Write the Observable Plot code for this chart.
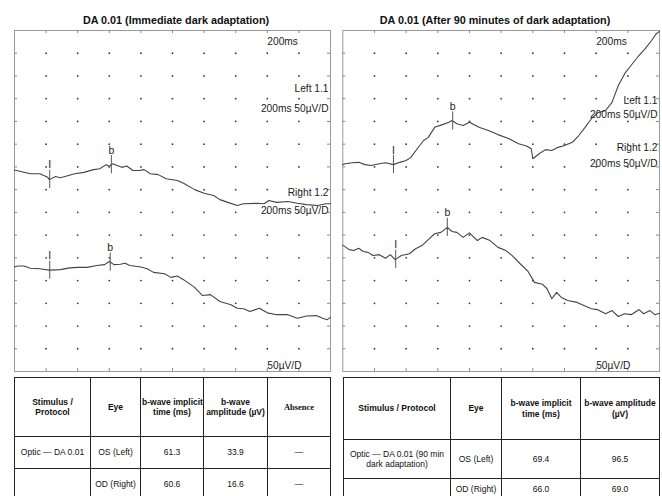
<!DOCTYPE html>
<html><head><meta charset="utf-8">
<script src="https://cdn.jsdelivr.net/npm/d3@7"></script>
<script src="https://cdn.jsdelivr.net/npm/@observablehq/plot@0.6"></script>
<style>
body{margin:0;background:#fff;font-family:"Liberation Sans",Arial,sans-serif;}
#wrap{position:relative;width:662px;height:496px;overflow:hidden;background:#fff;}
.title{position:absolute;top:14px;z-index:3;font-weight:bold;font-size:10.8px;line-height:13px;text-align:center;white-space:nowrap;color:#111;}
.panel{position:absolute;top:0;z-index:1;}
table{position:absolute;border-collapse:collapse;table-layout:fixed;z-index:2;background:#fff;}
td,th{border:1px solid #222;text-align:center;vertical-align:middle;padding:0 1px;font-size:8.5px;line-height:10.5px;white-space:nowrap;color:#111;}
th{font-weight:bold;}
th.serif{font-family:"Liberation Serif","Times New Roman",serif;font-size:8.5px;}
</style></head>
<body>
<div id="wrap"></div>
<script>
// ---- grid (ms, µV) ----
const xGrid = [20, 40, 60, 80, 100, 120, 140, 160, 180];
const yGrid = [50, 100, 150, 200, 250, 300, 350, 400, 450, 500, 550, 600, 650, 700];
const markerLabels = ["I", "b"];

// ---- Immediate dark adaptation ----
const immLeft_t = [0,4,10,16,21,22,26,29,32,38,44,50,54,58,60,62,65,68,71,75,79,82,86,91,96,103,107,114,120,126,130,135,141,145,154,158,161,166,173,179,185,192,197,200];
const immLeft_v = [443,440,435,435,427,422,429,426,429,435,438,444,446,455,451,457,453,449,452,442,442,444,435,433,424,420,414,400,392,387,378,372,365,369,370,369,376,372,374,370,367,365,369,369];
const immLeft_marks = [22.3, 61.3];
const immRight_t = [0,2,6,10,16,22,29,35,40,46,52,57,60,63,67,70,73,80,84,88,95,99,103,107,114,119,124,130,137,141,145,149,155,160,166,173,179,185,191,195,198,200];
const immRight_v = [230,232,232,227,226,223,224,228,229,229,233,235,242,235,236,238,233,230,226,218,215,207,210,202,185,167,169,154,147,139,138,132,139,129,125,125,117,122,123,117,114,119];
const immRight_marks = [22.3, 60.6];

// ---- After 90 minutes of dark adaptation ----
const darkLeft_t = [0,1.5,6,10,14,18,23,27,32,36,40,43,47,51,54,58,63,67,69,72,76,80,86,92,98,105,111,116,119,120,124,128,132,136,140,145,149,153,157,161,166,170,174,178,182,187,191,195,198,200];
const darkLeft_v = [455,457,459,460,455,453,457,459,455,460,464,471,490,508,515,537,543,548,552,545,541,548,537,530,521,512,501,496,490,468,479,488,486,493,497,504,519,537,556,569,574,592,629,655,673,695,710,728,743,748];
const darkLeft_marks = [32, 69.4];
const darkRight_t = [0,4,7,10,13,16,19,23,27,30,33,37,42,46,50,54,58,62,66,69,72,76,80,85,88,93,98,103,107,112,117,121,126,129,132,135,138,142,148,153,157,161,166,170,174,178,182,187,190,194,197,200];
const darkRight_v = [278,268,266,271,264,262,255,257,249,257,246,255,259,270,277,290,303,306,317,308,306,295,305,288,295,288,273,266,255,237,220,196,192,182,160,174,163,156,152,144,138,136,127,134,121,127,125,136,127,134,125,128];
const darkRight_marks = [33.4, 66.0];

// ---- titles & annotations ----
const titles = ["DA 0.01 (Immediate dark adaptation)", "DA 0.01 (After 90 minutes of dark adaptation)"];
const sweepLabel = "200ms";
const gainLabel = "50µV/D";
const chLabels = ["Left 1.1", "Right 1.2"];
const chSettings = "200ms 50µV/D";

// ---- tables ----
const t1Header = ["Stimulus /\nProtocol", "Eye", "b-wave implicit\ntime (ms)", "b-wave\namplitude (µV)", "Absence"];
const t1Rows = [["Optic — DA 0.01", "OS (Left)", "61.3", "33.9", "—"], ["", "OD (Right)", "60.6", "16.6", "—"]];
const t2Header = ["Stimulus / Protocol", "Eye", "b-wave implicit\ntime (ms)", "b-wave amplitude\n(µV)"];
const t2Rows = [["Optic — DA 0.01 (90 min\ndark adaptation)", "OS (Left)", "69.4", "96.5"], ["", "OD (Right)", "66.0", "69.0"]];

const FONT = '"Liberation Sans",Arial,sans-serif';

function interp(ts, vs, t) {
  const i = d3.bisectLeft(ts, t);
  if (i <= 0) return vs[0];
  if (i >= ts.length) return vs[vs.length - 1];
  const f = (t - ts[i - 1]) / (ts[i] - ts[i - 1]);
  return vs[i - 1] + f * (vs[i] - vs[i - 1]);
}

function panel(cfg) {
  const W = 331, H = 372, mt = 30, mb = 1;
  const innerW = W - cfg.ml - cfg.mr, innerH = H - mt - mb;
  const lines = cfg.traces.flatMap((tr, k) => tr.t.map((t, i) => ({t, v: tr.v[i], id: k})));
  const marks = cfg.traces.flatMap(tr => tr.m.map((t, i) => ({t, v: interp(tr.t, tr.v, t), label: markerLabels[i]})));
  const pts = xGrid.flatMap(x => yGrid.map(y => ({x, y})));
  return Plot.plot({
    width: W, height: H, marginTop: mt, marginBottom: mb, marginLeft: cfg.ml, marginRight: cfg.mr,
    x: {domain: [0, 200], axis: null},
    y: {domain: [0, 750], axis: null},
    style: {fontFamily: FONT, fontSize: "10.2px", color: "#222", background: "white", overflow: "visible"},
    marks: [
      Plot.frame({stroke: "#9a9a9a", strokeWidth: 1}),
      Plot.tickX(xGrid, {x: d => d, insetBottom: innerH - 3, stroke: "#888"}),
      Plot.tickX(xGrid, {x: d => d, insetTop: innerH - 3, stroke: "#888"}),
      Plot.tickY(yGrid, {y: d => d, insetRight: innerW - 3, stroke: "#888"}),
      Plot.tickY(yGrid, {y: d => d, insetLeft: innerW - 3, stroke: "#888"}),
      Plot.dot(pts, {x: "x", y: "y", r: 0.9, fill: "#3a3a3a", stroke: "none"}),
      Plot.line(lines, {x: "t", y: "v", z: "id", stroke: "#444", strokeWidth: 1.1}),
      Plot.ruleX(marks, {x: "t", y1: d => d.v - 20, y2: d => d.v + 20, stroke: "#555", strokeWidth: 1}),
      Plot.text(marks, {x: "t", y: "v", text: "label", dy: -11, lineAnchor: "bottom", fontSize: 10.5, fill: "#222"}),
      Plot.text([sweepLabel, gainLabel], {x: [160, 160], y: cfg.startY, text: d => d, textAnchor: "start", fill: "#222"}),
      Plot.text([chLabels[0], chSettings, chLabels[1], chSettings], {x: [200, 200, 200, 200], y: cfg.endY, text: d => d, textAnchor: "end", dx: -2, fill: "#222"})
    ]
  });
}

const wrap = document.getElementById("wrap");

function addTitle(text, left, width) {
  const d = document.createElement("div");
  d.className = "title";
  d.style.left = left + "px";
  d.style.width = width + "px";
  d.textContent = text;
  wrap.appendChild(d);
}

function addPanel(svg, left) {
  const d = document.createElement("div");
  d.className = "panel";
  d.style.left = left + "px";
  d.appendChild(svg);
  wrap.appendChild(d);
}

addPanel(panel({
  ml: 14, mr: 1,
  traces: [{t: immLeft_t, v: immLeft_v, m: immLeft_marks}, {t: immRight_t, v: immRight_v, m: immRight_marks}],
  startY: [726, 13],
  endY: [622, 578, 394, 354]
}), 0);

addPanel(panel({
  ml: 11.3, mr: 3,
  traces: [{t: darkLeft_t, v: darkLeft_v, m: darkLeft_marks}, {t: darkRight_t, v: darkRight_v, m: darkRight_marks}],
  startY: [726, 13],
  endY: [596, 565, 493, 457]
}), 331);

addTitle(titles[0], 0, 352);
addTitle(titles[1], 331, 328);

function addTable(header, rows, left, colW, rowH, serifLast) {
  const tb = document.createElement("table");
  tb.style.left = left + "px";
  tb.style.top = "377px";
  tb.style.width = d3.sum(colW) + "px";
  const cg = document.createElement("colgroup");
  colW.forEach(w => { const c = document.createElement("col"); c.style.width = w + "px"; cg.appendChild(c); });
  tb.appendChild(cg);
  const all = [header, ...rows];
  all.forEach((r, ri) => {
    const tr = document.createElement("tr");
    tr.style.height = rowH[ri] + "px";
    r.forEach((txt, ci) => {
      const cell = document.createElement(ri === 0 ? "th" : "td");
      if (ri === 0 && serifLast && ci === r.length - 1) cell.className = "serif";
      txt.split("\n").forEach((ln, li) => {
        if (li > 0) cell.appendChild(document.createElement("br"));
        cell.appendChild(document.createTextNode(ln));
      });
      tr.appendChild(cell);
    });
    tb.appendChild(tr);
  });
  wrap.appendChild(tb);
}

addTable(t1Header, t1Rows, 14, [76, 50, 63, 64, 63], [59, 32, 32], true);
addTable(t2Header, t2Rows, 343, [107, 51, 79, 79], [62, 39, 21], false);
</script>
</body></html>
